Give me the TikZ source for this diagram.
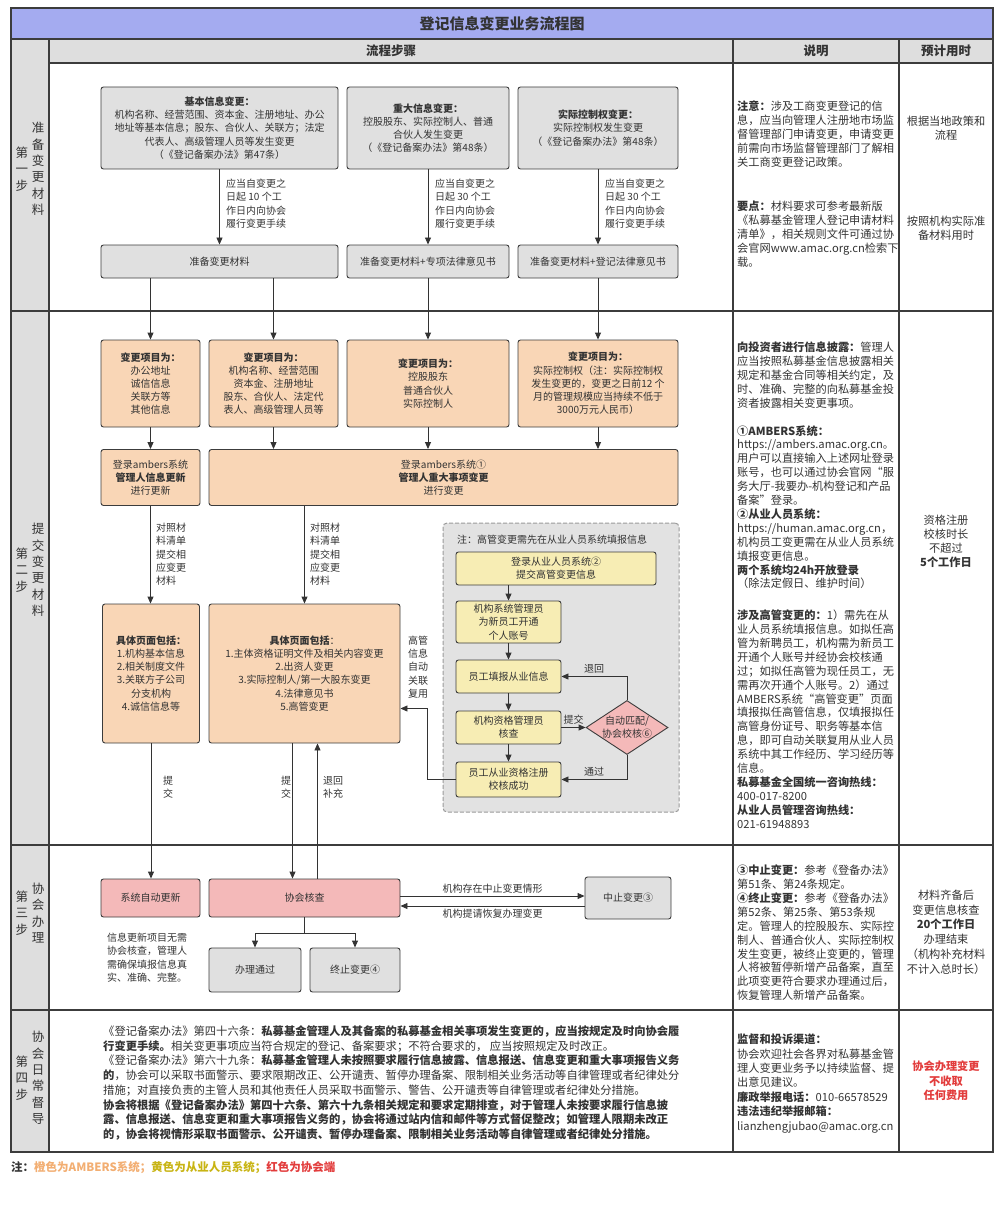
\documentclass[tikz,border=0pt]{standalone}
\usepackage{fontspec}
\setmainfont{Noto Sans CJK SC}
\usepackage{xcolor}
\usetikzlibrary{arrows.meta,positioning,shapes.geometric,calc}

\definecolor{frame}{HTML}{3C3C3C}
\definecolor{ink}{HTML}{333333}
\definecolor{titleblue}{HTML}{A4ABF0}
\definecolor{hdrgray}{HTML}{DEDEDE}
\definecolor{boxgray}{HTML}{E0E0E0}
\definecolor{ambfill}{HTML}{F9D6B6}
\definecolor{empfill}{HTML}{F7EDB4}
\definecolor{assfill}{HTML}{F4B9B9}
\definecolor{grpfill}{HTML}{E2E2E2}
\definecolor{grpline}{HTML}{9A9A9A}
\definecolor{noteorange}{HTML}{F2AE72}
\definecolor{noteyellow}{HTML}{C8B414}
\definecolor{notered}{HTML}{E23C3C}

\newcommand\flowfont{\fontsize{10}{13.2}\selectfont}
\newcommand\explfont{\fontsize{11.2}{13.9}\selectfont}
\newcommand\stepfont{\fontsize{12.5}{16.4}\selectfont}

\tikzset{
  >={Triangle[length=7pt,width=6pt]},
  tablerule/.style={draw=frame, line width=1.4pt},
  flow/.style={draw=ink, line width=0.9pt, ->},
  wire/.style={draw=ink, line width=0.9pt},
  flowbox/.style={draw=frame, line width=0.9pt, rounded corners=2.5pt, align=center, inner sep=0pt, text=ink, font=\flowfont},
  graybox/.style={flowbox, fill=boxgray},
  ambbox/.style={flowbox, fill=ambfill},
  empbox/.style={flowbox, fill=empfill},
  assbox/.style={flowbox, fill=assfill},
  checkdia/.style={diamond, draw=frame, line width=0.9pt, fill=assfill, inner sep=0pt, align=center, text=ink, font=\flowfont},
  grpbox/.style={draw=grpline, dashed, dash pattern=on 4pt off 2pt, line width=1pt, rounded corners=4pt, fill=grpfill, inner sep=0pt},
  lbl/.style={anchor=north west, align=left, inner sep=0pt, text=ink, font=\flowfont},
  edgelbl/.style={inner sep=2.5pt, text=ink, font=\flowfont},
  expl/.style={anchor=north west, align=left, inner sep=0pt, text=ink, font=\explfont},
  timecell/.style={align=center, inner sep=0pt, text=ink, font=\fontsize{11.2}{14.2}\selectfont},
  steplbl/.style={align=center, inner sep=0pt, text=ink, font=\stepfont},
  hdr/.style={inner sep=0pt, text=ink, font=\fontsize{12.5}{15}\selectfont\bfseries},
}

\begin{document}
\begin{tikzpicture}[x=1pt, y=-1pt]
  \useasboundingbox (0,0) rectangle (1000,1206);

  % table
  \fill[titleblue] (11,8) rectangle (993,39);
  \fill[hdrgray] (11,39) rectangle (49,1152);
  \fill[hdrgray] (49,39) rectangle (993,63);
  \draw[tablerule] (11,8) rectangle (993,1152);
  \draw[tablerule] (11,39) -- (993,39);
  \draw[tablerule] (49,63) -- (993,63);
  \foreach \x in {49,733,899} \draw[tablerule] (\x,39) -- (\x,1152);
  \foreach \y in {311,845,1010} \draw[tablerule] (11,\y) -- (993,\y);

  \node[font=\fontsize{15}{18}\selectfont\bfseries, text=ink] (title) at (502,23.5) {登记信息变更业务流程图};
  \node[hdr] (hFlow) at (391,51) {流程步骤};
  \node[hdr] (hNote) at (816,51) {说明};
  \node[hdr] (hTime) at (946,51) {预计用时};

  \node[steplbl] (s1num) at (22,169) {第\\一\\步};
  \node[steplbl] (s1name) at (38,169) {准\\备\\变\\更\\材\\料};
  \node[steplbl] (s2num) at (22,570) {第\\二\\步};
  \node[steplbl] (s2name) at (38,570) {提\\交\\变\\更\\材\\料};
  \node[steplbl] (s3num) at (22,913) {第\\三\\步};
  \node[steplbl] (s3name) at (38,913) {协\\会\\办\\理};
  \node[steplbl] (s4num) at (22,1078) {第\\四\\步};
  \node[steplbl] (s4name) at (38,1078) {协\\会\\日\\常\\督\\导};

  % step 1
  \node[graybox, minimum width=237, minimum height=82] (chgA) at (219.5,128) {\textbf{基本信息变更：}\\机构名称、经营范围、资本金、注册地址、办公\\地址等基本信息；股东、合伙人、关联方；法定\\代表人、高级管理人员等发生变更\\（《登记备案办法》第47条）};
  \node[graybox, minimum width=162, minimum height=82] (chgB) at (428,128) {\textbf{重大信息变更：}\\控股股东、实际控制人、普通\\合伙人发生变更\\（《登记备案办法》第48条）};
  \node[graybox, minimum width=160, minimum height=82] (chgC) at (598,128) {\textbf{实际控制权变更：}\\实际控制权发生变更\\（《登记备案办法》第48条）};
  \node[graybox, minimum width=237, minimum height=33] (prepA) at (219.5,261.5) {准备变更材料};
  \node[graybox, minimum width=162, minimum height=33] (prepB) at (428,261.5) {准备变更材料+专项法律意见书};
  \node[graybox, minimum width=160, minimum height=33] (prepC) at (598,261.5) {准备变更材料+登记法律意见书};
  \node[lbl] (dlA) at (226,179) {应当自变更之\\日起 10 个工\\作日内向协会\\履行变更手续};
  \node[lbl] (dlB) at (435,179) {应当自变更之\\日起 30 个工\\作日内向协会\\履行变更手续};
  \node[lbl] (dlC) at (605,179) {应当自变更之\\日起 30 个工\\作日内向协会\\履行变更手续};

  \draw[flow] (chgA.south) -- (prepA.north);
  \draw[flow] (chgB.south) -- (prepB.north);
  \draw[flow] (chgC.south) -- (prepC.north);

  % step 2
  \node[ambbox, minimum width=99, minimum height=87] (itmA) at (150.5,383.5) {\textbf{变更项目为：}\\办公地址\\诚信信息\\关联方等\\其他信息};
  \node[ambbox, minimum width=129, minimum height=87] (itmB) at (273.5,383.5) {\textbf{变更项目为：}\\机构名称、经营范围\\资本金、注册地址\\股东、合伙人、法定代\\表人、高级管理人员等};
  \node[ambbox, minimum width=162, minimum height=87] (itmC) at (428,383.5) {\textbf{变更项目为：}\\控股股东\\普通合伙人\\实际控制人};
  \node[ambbox, minimum width=160, minimum height=87] (itmD) at (598,383.5) {\textbf{变更项目为：}\\实际控制权（注：实际控制权\\发生变更的，变更之日前12 个\\月的管理规模应当持续不低于\\3000万元人民币）};
  \node[ambbox, minimum width=99, minimum height=56] (lgA) at (150.5,477.5) {登录ambers系统\\\textbf{管理人信息更新}\\进行更新};
  \node[ambbox, minimum width=469, minimum height=56] (lgB) at (443.5,477.5) {登录ambers系统①\\\textbf{管理人重大事项变更}\\进行变更};
  \node[lbl] (cmpA) at (156,523) {对照材\\料清单\\提交相\\应变更\\材料};
  \node[lbl] (cmpB) at (310,523) {对照材\\料清单\\提交相\\应变更\\材料};
  \node[ambbox, minimum width=97, minimum height=139] (pgA) at (151,673.5) {\textbf{具体页面包括：}\\1.机构基本信息\\2.相关制度文件\\3.关联方子公司\\分支机构\\4.诚信信息等};
  \node[ambbox, minimum width=191, minimum height=139] (pgB) at (304.5,673.5) {\textbf{具体页面包括}：\\1.主体资格证明文件及相关内容变更\\2.出资人变更\\3.实际控制人/第一大股东变更\\4.法律意见书\\5.高管变更};

  \draw[flow] (prepA.south -| itmA.north) -- (itmA.north);
  \draw[flow] (prepA.south -| itmB.north) -- (itmB.north);
  \draw[flow] (prepB.south) -- (itmC.north);
  \draw[flow] (prepC.south) -- (itmD.north);
  \draw[flow] (itmA.south) -- (lgA.north);
  \draw[flow] (itmB.south) -- (itmB.south |- lgB.north);
  \draw[flow] (itmC.south) -- (itmC.south |- lgB.north);
  \draw[flow] (itmD.south) -- (itmD.south |- lgB.north);
  \draw[flow] (lgA.south) -- (lgA.south |- pgA.north);
  \draw[flow] (lgB.south -| pgB.north) -- (pgB.north);

  \node[grpbox, minimum width=236, minimum height=289] (grp) at (561,667.5) {};
  \node[lbl] (grpNote) at (457,535) {注：高管变更需先在从业人员系统填报信息};
  \node[empbox, minimum width=200, minimum height=33] (yLogin) at (556,568.5) {登录从业人员系统②\\提交高管变更信息};
  \node[empbox, minimum width=105, minimum height=42] (yOpen) at (508.5,622) {机构系统管理员\\为新员工开通\\个人账号};
  \node[empbox, minimum width=105, minimum height=33] (yFill) at (508.5,676.5) {员工填报从业信息};
  \node[empbox, minimum width=105, minimum height=33] (yCheck) at (508.5,727.5) {机构资格管理员\\核查};
  \node[empbox, minimum width=105, minimum height=35] (yDone) at (508.5,779.5) {员工从业资格注册\\校核成功};
  \node[checkdia, minimum width=82, minimum height=54] (match) at (627,727.5) {\makebox[0pt]{自动匹配/}\\\makebox[0pt]{协会校核⑥}};
  \node[lbl, anchor=center, align=center] (reuse) at (418,667) {高管\\信息\\自动\\关联\\复用};

  \draw[flow] (yLogin.south -| yOpen.north) -- (yOpen.north);
  \draw[flow] (yOpen.south) -- (yFill.north);
  \draw[flow] (yFill.south) -- (yCheck.north);
  \draw[flow] (yCheck.south) -- (yDone.north);
  \draw[flow] (yCheck.east) -- node[edgelbl, above] (lblSub) {提交} (match.west);
  \draw[flow] (match.north) |- node[edgelbl, pos=0.75, above] (lblRet) {退回} (yFill.east);
  \draw[flow] (match.south) |- node[edgelbl, pos=0.75, above] (lblPass) {通过} (yDone.east);
  \draw[flow] (yDone.west) -- ([xshift=-28pt]yDone.west) |- ([yshift=-35pt]pgB.east);

  % step 3
  \node[assbox, minimum width=99, minimum height=38] (sysUpd) at (150.5,898) {系统自动更新};
  \node[assbox, minimum width=191, minimum height=38] (review) at (304.5,898) {协会核查};
  \node[graybox, minimum width=86, minimum height=42] (suspend) at (628,898) {中止变更③};
  \node[graybox, minimum width=92, minimum height=44] (pass) at (255,970) {办理通过};
  \node[graybox, minimum width=90, minimum height=44] (stop) at (355,970) {终止变更④};
  \node[lbl] (selfNote) at (107,933) {信息更新项目无需\\协会核查，管理人\\需确保填报信息真\\实、准确、完整。};
  \node[lbl] (subA) at (163,776) {提\\交};
  \node[lbl] (subB) at (281,776) {提\\交};
  \node[lbl] (back) at (323,776) {退回\\补充};

  \draw[flow] (pgA.south) -- (pgA.south |- sysUpd.north);
  \draw[flow] ([xshift=-12pt]pgB.south) -- ([xshift=-12pt]review.north);
  \draw[flow] ([xshift=13pt]review.north) -- ([xshift=13pt]pgB.south);
  \draw[flow] ([yshift=2pt]review.east) -- node[edgelbl, above] (lblSus) {机构存在中止变更情形} ([yshift=2pt]review.east -| suspend.west);
  \draw[flow] ([yshift=-8pt]suspend.west) -- node[edgelbl, below] (lblRes) {机构提请恢复办理变更} ([yshift=-8pt]suspend.west -| review.east);
  \coordinate (fork) at ([yshift=-16pt]review.south);
  \draw[wire] (review.south) -- (fork);
  \draw[flow] (fork) -| (pass.north);
  \draw[flow] (fork) -| (stop.north);

  % step 4
  \node[expl, font=\fontsize{11.3}{14.7}\selectfont] (rules) at (103,1025.5) {《登记备案办法》第四十六条：\textbf{私募基金管理人及其备案的私募基金相关事项发生变更的，应当按规定及时向协会履}\\\textbf{行变更手续。}相关变更事项应当符合规定的登记、备案要求；不符合要求的， 应当按照规定及时改正。\\《登记备案办法》第六十九条：\textbf{私募基金管理人未按照要求履行信息披露、信息报送、信息变更和重大事项报告义务}\\\textbf{的}，协会可以采取书面警示、要求限期改正、公开谴责、暂停办理备案、限制相关业务活动等自律管理或者纪律处分\\措施；对直接负责的主管人员和其他责任人员采取书面警示、警告、公开谴责等自律管理或者纪律处分措施。\\\textbf{协会将根据《登记备案办法》第四十六条、第六十九条相关规定和要求定期排查，对于管理人未按要求履行信息披}\\\textbf{露、信息报送、信息变更和重大事项报告义务的，协会将通过站内信和邮件等方式督促整改；如管理人限期未改正}\\\textbf{的，协会将视情形采取书面警示、公开谴责、暂停办理备案、限制相关业务活动等自律管理或者纪律处分措施。}};

  % notes column
  \node[expl] (e1a) at (737,100.7) {\textbf{注意：}涉及工商变更登记的信\\息，应当向管理人注册地市场监\\督管理部门申请变更，申请变更\\前需向市场监督管理部门了解相\\关工商变更登记政策。};
  \node[expl] (e1b) at (737,200.7) {\textbf{要点：}材料要求可参考最新版\\《私募基金管理人登记申请材料\\清单》，相关规则文件可通过协\\会官网www.amac.org.cn检索下\\载。};
  \node[expl] (e2a) at (737,341.7) {\textbf{向投资者进行信息披露：}管理人\\应当按照私募基金信息披露相关\\规定和基金合同等相关约定，及\\时、准确、完整的向私募基金投\\资者披露相关变更事项。\\[13.9pt]\textbf{①AMBERS系统：}\\https://ambers.amac.org.cn。\\用户可以直接输入上述网址登录\\账号，也可以通过协会官网“服\\务大厅-我要办-机构登记和产品\\备案”登录。\\\textbf{②从业人员系统：}\\https://human.amac.org.cn，\\机构员工变更需在从业人员系统\\填报变更信息。\\\textbf{两个系统均24h开放登录}\\（除法定假日、维护时间）};
  \node[expl] (e2b) at (737,609.7) {\textbf{涉及高管变更的：}1）需先在从\\业人员系统填报信息。如拟任高\\管为新聘员工，机构需为新员工\\开通个人账号并经协会校核通\\过；如拟任高管为现任员工，无\\需再次开通个人账号。2）通过\\AMBERS系统“高管变更”页面\\填报拟任高管信息，仅填报拟任\\高管身份证号、职务等基本信\\息，即可自动关联复用从业人员\\系统中其工作经历、学习经历等\\信息。\\\textbf{私募基金全国统一咨询热线：}\\400-017-8200\\\textbf{从业人员管理咨询热线：}\\021-61948893};
  \node[expl] (e3) at (737,864.7) {\textbf{③中止变更：}参考《登备办法》\\第51条、第24条规定。\\\textbf{④终止变更：}参考《登备办法》\\第52条、第25条、第53条规\\定。管理人的控股股东、实际控\\制人、普通合伙人、实际控制权\\发生变更，被终止变更的，管理\\人将被暂停新增产品备案，直至\\此项变更符合要求办理通过后，\\恢复管理人新增产品备案。};
  \node[expl, font=\fontsize{11.2}{14.4}\selectfont] (e4) at (737,1033.7) {\textbf{监督和投诉渠道：}\\协会欢迎社会各界对私募基金管\\理人变更业务予以持续监督、提\\出意见建议。\\\textbf{廉政举报电话：}010-66578529\\\textbf{违法违纪举报邮箱：}\\lianzhengjubao@amac.org.cn};

  % time column
  \node[timecell] (t1a) at (946,128.5) {根据当地政策和\\流程};
  \node[timecell] (t1b) at (946,228.5) {按照机构实际准\\备材料用时};
  \node[timecell] (t2) at (946,541.5) {资格注册\\校核时长\\不超过\\\textbf{5个工作日}};
  \node[timecell, font=\fontsize{11.2}{14.8}\selectfont] (t3) at (946,932) {材料齐备后\\变更信息核查\\\textbf{20个工作日}\\办理结束\\（机构补充材料\\不计入总时长）};
  \node[timecell, text=notered, font=\fontsize{11.2}{14.5}\selectfont\bfseries] (t4) at (946,1081) {协会办理变更\\不收取\\任何费用};

  \node[anchor=west, inner sep=0pt, text=ink, font=\fontsize{11.5}{14}\selectfont\bfseries] (legend) at (11,1168) {注：\textcolor{noteorange}{橙色为AMBERS系统；}\textcolor{noteyellow}{黄色为从业人员系统；}\textcolor{notered}{红色为协会端}};
\end{tikzpicture}
\end{document}
